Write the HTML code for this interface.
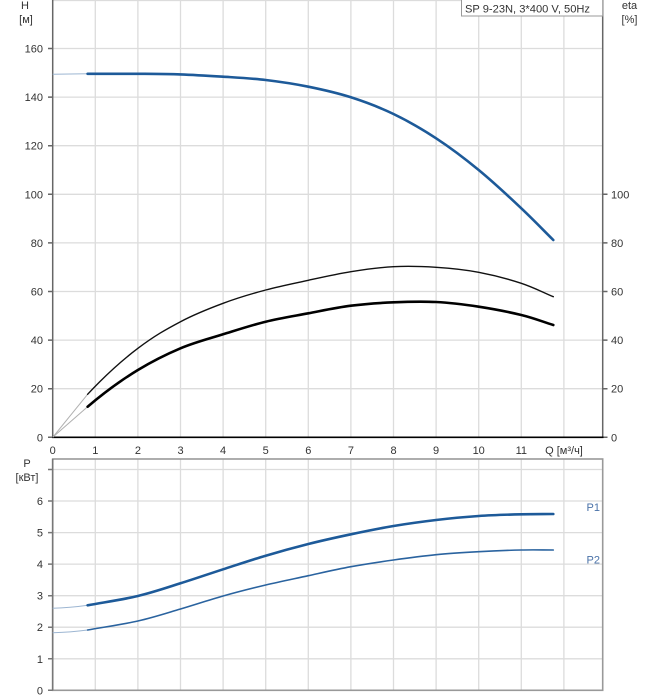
<!DOCTYPE html>
<html><head><meta charset="utf-8"><style>
html,body{margin:0;padding:0;background:#fff;}
svg{display:block;}
text{font-family:"Liberation Sans",Arial,sans-serif;font-size:11px;fill:#333;}
</style></head><body>
<svg width="658" height="700" viewBox="0 0 658 700" xmlns="http://www.w3.org/2000/svg">
<rect x="0" y="0" width="658" height="700" fill="#fff"/>
<!-- top grid -->
<g stroke="#dcdcdc" stroke-width="1.3" fill="none">
<path d="M95.3 0V437M137.9 0V437M180.5 0V437M223.1 0V437M265.7 0V437M308.3 0V437M350.9 0V437M393.5 0V437M436.1 0V437M478.7 0V437M521.3 0V437M563.9 0V437"/>
<path d="M52.7 388.7H602.7M52.7 340.1H602.7M52.7 291.5H602.7M52.7 242.9H602.7M52.7 194.3H602.7M52.7 145.7H602.7M52.7 97.1H602.7M52.7 48.5H602.7M52.7 0.5H602.7"/>
</g>
<!-- bottom grid -->
<g stroke="#dcdcdc" stroke-width="1.3" fill="none">
<path d="M95.3 459V690M137.9 459V690M180.5 459V690M223.1 459V690M265.7 459V690M308.3 459V690M350.9 459V690M393.5 459V690M436.1 459V690M478.7 459V690M521.3 459V690M563.9 459V690"/>
<path d="M52.7 658.8H602.7M52.7 627.2H602.7M52.7 595.7H602.7M52.7 564.1H602.7M52.7 532.6H602.7M52.7 501H602.7M52.7 469.5H602.7"/>
</g>
<!-- top axes -->
<g stroke="#666" stroke-width="1.5" fill="none">
<path d="M52.7 0V437.3M602.7 0V437.3"/>
<path d="M48 388.7H52.7M48 340.1H52.7M48 291.5H52.7M48 242.9H52.7M48 194.3H52.7M48 145.7H52.7M48 97.1H52.7M48 48.5H52.7M48 437.3H52.7"/>
<path d="M602.7 388.7H607.5M602.7 340.1H607.5M602.7 291.5H607.5M602.7 242.9H607.5M602.7 194.3H607.5M602.7 437.3H607.5"/>
</g>
<path d="M52 437.3H603.5" stroke="#000" stroke-width="1.6"/>
<!-- bottom frame -->
<rect x="52.7" y="459" width="550" height="231.3" fill="none" stroke="#999" stroke-width="1.6"/>
<path d="M52.7 459V690.3" stroke="#777" stroke-width="1.6"/>
<g stroke="#777" stroke-width="1.5">
<path d="M48 469.5H52.7M48 501H52.7M48 532.6H52.7M48 564.1H52.7M48 595.7H52.7M48 627.2H52.7M48 658.8H52.7M48 690.3H52.7"/>
</g>
<!-- legend box -->
<rect x="461.5" y="-1" width="141.2" height="17" fill="#fff" stroke="#999" stroke-width="1"/>
<text x="465" y="12.5" textLength="125" lengthAdjust="spacingAndGlyphs">SP 9-23N, 3*400 V, 50Hz</text>
<!-- axis titles -->
<text x="25" y="9" text-anchor="middle">H</text>
<text x="26" y="23" text-anchor="middle">[м]</text>
<text x="629.5" y="9" text-anchor="middle">eta</text>
<text x="629.5" y="23" text-anchor="middle">[%]</text>
<text x="27" y="467" text-anchor="middle">P</text>
<text x="27" y="481" text-anchor="middle">[кВт]</text>
<!-- left labels top -->
<g text-anchor="end">
<text x="43" y="441.3">0</text>
<text x="43" y="392.7">20</text>
<text x="43" y="344.1">40</text>
<text x="43" y="295.5">60</text>
<text x="43" y="246.9">80</text>
<text x="43" y="198.3">100</text>
<text x="43" y="149.7">120</text>
<text x="43" y="101.1">140</text>
<text x="43" y="52.5">160</text>
</g>
<!-- right labels -->
<g>
<text x="611" y="441.3">0</text>
<text x="611" y="392.7">20</text>
<text x="611" y="344.1">40</text>
<text x="611" y="295.5">60</text>
<text x="611" y="246.9">80</text>
<text x="611" y="198.3">100</text>
</g>
<!-- x labels -->
<g text-anchor="middle">
<text x="52.7" y="454">0</text>
<text x="95.3" y="454">1</text>
<text x="137.9" y="454">2</text>
<text x="180.5" y="454">3</text>
<text x="223.1" y="454">4</text>
<text x="265.7" y="454">5</text>
<text x="308.3" y="454">6</text>
<text x="350.9" y="454">7</text>
<text x="393.5" y="454">8</text>
<text x="436.1" y="454">9</text>
<text x="478.7" y="454">10</text>
<text x="521.3" y="454">11</text>
<text x="564" y="454">Q [м³/ч]</text>
</g>
<!-- bottom left labels -->
<g text-anchor="end">
<text x="43" y="694.3">0</text>
<text x="43" y="662.8">1</text>
<text x="43" y="631.2">2</text>
<text x="43" y="599.7">3</text>
<text x="43" y="568.1">4</text>
<text x="43" y="536.6">5</text>
<text x="43" y="505">6</text>
</g>
<!-- P labels -->
<text x="600" y="511" text-anchor="end" style="fill:#4a72a8">P1</text>
<text x="600" y="563.5" text-anchor="end" style="fill:#4a72a8">P2</text>

<!-- leading light segments -->
<g fill="none" stroke-width="1">
<path d="M52.7 74.3L87.6 73.8" stroke="#9db6d2"/>
<path d="M52.7 437.3L87.6 394.3" stroke="#b0b0b0"/>
<path d="M52.7 437.3L87.6 406.7" stroke="#b0b0b0"/>
<path d="M52.7 608.3Q70 607.9 87.6 605.3" stroke="#9db6d2"/>
<path d="M52.7 632.7Q70 632.3 87.6 630" stroke="#9db6d2"/>
</g>
<!-- H curve -->
<path fill="none" stroke="#1d5a99" stroke-width="2.6" stroke-linecap="round" d="M87.6 73.8C104.4 73.8 122.4 73.7 137.9 73.8S166.3 73.9 180.5 74.4S208.9 75.8 223.1 76.7S251.5 78.3 265.7 80S294.1 83.8 308.3 86.7S336.7 92.75 350.9 97.3S379.3 107.2 393.5 114S421.9 129 436.1 138.3S464.5 158.3 478.7 170S508.9 196.6 521.3 208.3S542.6 229.4 553.3 240"/>
<!-- eta thin -->
<path fill="none" stroke="#111" stroke-width="1.4" stroke-linecap="round" d="M87.6 394.3C104.4 376.3 121.1 361 137.9 348.3S166.3 329.2 180.5 321.7S208.9 308.6 223.1 303.3S251.5 293.8 265.7 290S294.1 283.4 308.3 280.3S336.7 274 350.9 271.7S379.3 267.4 393.5 266.7S421.9 266.4 436.1 267.3S464.5 269.6 478.7 272.3S508.9 279.2 521.3 283.3S542.6 292.2 553.3 296.7"/>
<!-- eta thick -->
<path fill="none" stroke="#000" stroke-width="2.6" stroke-linecap="round" d="M87.6 406.7C104.4 392.4 121.1 380.2 137.9 370S166.3 354.3 180.5 348.3S208.9 338.7 223.1 334.3S251.5 325.2 265.7 321.7S294.1 316 308.3 313.3S336.7 307.5 350.9 305.7S379.3 302.9 393.5 302.3S421.9 301.3 436.1 302S464.5 304.5 478.7 306.7S508.9 312 521.3 315S542.6 321.7 553.3 325"/>
<!-- P1 -->
<path fill="none" stroke="#1d5a99" stroke-width="2.6" stroke-linecap="round" d="M87.6 605.3C104.4 602.2 122.4 599.7 137.9 596S166.3 587.8 180.5 583.3S208.9 573.9 223.1 569.3S251.5 559.9 265.7 555.7S294.1 547.6 308.3 544S336.7 537.3 350.9 534.3S379.3 528.4 393.5 526S421.9 521.7 436.1 520S464.5 517 478.7 516S508.9 514.6 521.3 514.3S542.6 514.1 553.3 514"/>
<!-- P2 -->
<path fill="none" stroke="#2a639f" stroke-width="1.6" stroke-linecap="round" d="M87.6 630C104.4 627 122.4 624.5 137.9 621S166.3 613.2 180.5 609S208.9 600 223.1 596S251.5 588.4 265.7 585S294.1 578.8 308.3 575.7S336.7 569.3 350.9 566.7S379.3 562 393.5 560S421.9 556.1 436.1 554.7S464.5 552.5 478.7 551.7S508.9 550.3 521.3 550S542.6 550 553.3 550"/>
</svg>
</body></html>
